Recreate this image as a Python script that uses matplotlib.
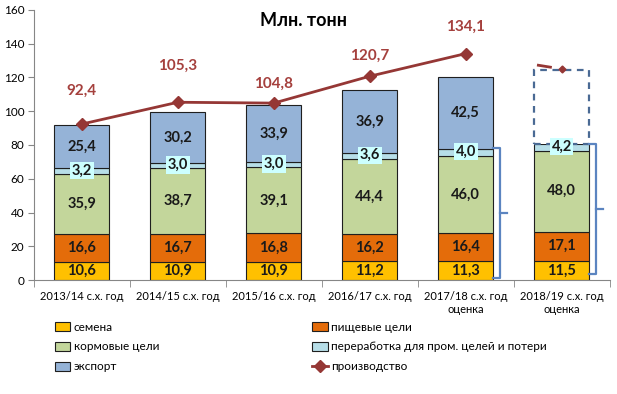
import matplotlib.pyplot as plt
import numpy as np

plt.rcParams['font.family'] = ['Lato', 'DejaVu Sans']

years = ["2013/14 с.х. год", "2014/15 с.х. год", "2015/16 с.х. год",
         "2016/17 с.х. год", "2017/18 с.х. год\nоценка", "2018/19 с.х. год\nоценка"]
semena = [10.6, 10.9, 10.9, 11.2, 11.3, 11.5]
pishch = [16.6, 16.7, 16.8, 16.2, 16.4, 17.1]
korm = [35.9, 38.7, 39.1, 44.4, 46.0, 48.0]
pererab = [3.2, 3.0, 3.0, 3.6, 4.0, 4.2]
export = [25.4, 30.2, 33.9, 36.9, 42.5, 43.4]   # last one is a dashed forecast box, no label
proizv = [92.4, 105.3, 104.8, 120.7, 134.1, 125.0]  # last point is not labelled

c_sem = '#FFC000'
c_pish = '#E46C0A'
c_korm = '#C3D69B'
c_per = '#B7DEE8'
c_exp = '#95B3D7'
c_line = '#953735'
c_brace = '#5B84C0'

fig = plt.figure(figsize=(6.17, 3.94), dpi=100)
ax = fig.add_axes([0.055, 0.289, 0.933, 0.686])

x = np.arange(len(years))
w = 0.575
ec = '#1F1F1F'

bottom = np.zeros(len(years))
series = [(semena, c_sem, 'семена'), (pishch, c_pish, 'пищевые цели'),
          (korm, c_korm, 'кормовые цели'), (pererab, c_per, 'переработка для пром. целей и потери')]
handles = {}
for vals, col, name in series:
    b = ax.bar(x, vals, w, bottom=bottom, color=col, edgecolor=ec, linewidth=0.8, label=name)
    handles[name] = b
    for i, v in enumerate(vals):
        ys = bottom[i] + v / 2
        txt = f"{v:.1f}".replace('.', ',')
        if col == c_per:
            ax.text(x[i], ys + 0.3, txt, ha='center', va='center', fontsize=10.5, fontweight='bold',
                    color='#1a1a1a', bbox=dict(boxstyle='square,pad=0.12', fc='#CCFFFF', ec='none'))
        else:
            ax.text(x[i], ys, txt, ha='center', va='center', fontsize=10.5, fontweight='bold',
                    color='#1a1a1a')
    bottom = bottom + np.array(vals)

# export: solid for first five, dashed empty box for the forecast
b_exp = ax.bar(x[:5], export[:5], w, bottom=bottom[:5], color=c_exp, edgecolor=ec, linewidth=0.8,
               label='экспорт')
handles['экспорт'] = b_exp
for i in range(5):
    ax.text(x[i], bottom[i] + export[i] / 2, f"{export[i]:.1f}".replace('.', ','), ha='center',
            va='center', fontsize=10.5, fontweight='bold', color='#1a1a1a')
ax.bar(x[5], export[5], w, bottom=bottom[5], facecolor='white', edgecolor='#4A6A94',
       linewidth=1.6, linestyle=(0, (3, 2.5)))

# production line
ln, = ax.plot(x[:5], proizv[:5], color=c_line, lw=2, marker='D', markersize=6.5, label='производство')
handles['производство'] = ln
ax.plot(x[4:6], proizv[4:6], color=c_line, lw=2, linestyle=(39.4, (5.4, 60)))
ax.plot(x[5], proizv[5], color=c_line, marker='D', markersize=3.5, lw=0)
offsets = [19, 21, 9, 10, 14]
for i in range(5):
    ax.annotate(f"{proizv[i]:.1f}".replace('.', ','), (x[i], proizv[i]), xytext=(0, offsets[i]),
                textcoords='offset points', ha='center', va='bottom', fontsize=11,
                fontweight='bold', color='#A5403D')

# braces to the right of the last two bars
def brace(xc, top, bot, mid):
    xe = xc + w / 2
    xv = xe + 0.07
    ax.plot([xe, xv, xv, xe], [top, top, bot, bot], color=c_brace, lw=1.6, solid_joinstyle='round')
    ax.plot([xv, xv + 0.07], [mid, mid], color=c_brace, lw=1.6)

brace(x[4], 78, 1.5, 40)
brace(x[5], 80.8, 3.5, 42)

ax.set_xlim(-0.5, 5.5)
ax.set_ylim(0, 160)
ax.set_yticks(range(0, 161, 20))
ax.tick_params(axis='y', labelsize=8.5, length=4, color='#868686', pad=3)
ax.set_xticks(x)
ax.set_xticklabels(years, fontsize=8)
ax.tick_params(axis='x', length=0, pad=8)
ax.set_xticks(np.arange(-0.5, 6, 1), minor=True)
ax.tick_params(axis='x', which='minor', length=5, color='#868686')
for s in ['top', 'right']:
    ax.spines[s].set_visible(False)
ax.spines['left'].set_color('#868686')
ax.spines['bottom'].set_color('#868686')

fig.text(304 / 617, 1 - 20 / 394, "Млн. тонн", ha='center', va='center', fontsize=13,
         fontweight='bold')

order = ['семена', 'кормовые цели', 'экспорт', 'пищевые цели',
         'переработка для пром. целей и потери', 'производство']
fig.legend([handles[k] for k in order], order, ncol=2, loc='upper left',
           bbox_to_anchor=(44 / 617, 1 - 311 / 394), frameon=False, fontsize=8.5,
           handlelength=1.3, handleheight=0.8, handletextpad=0.3, labelspacing=0.75,
           columnspacing=13.0)

fig.savefig('out.png', dpi=100)
